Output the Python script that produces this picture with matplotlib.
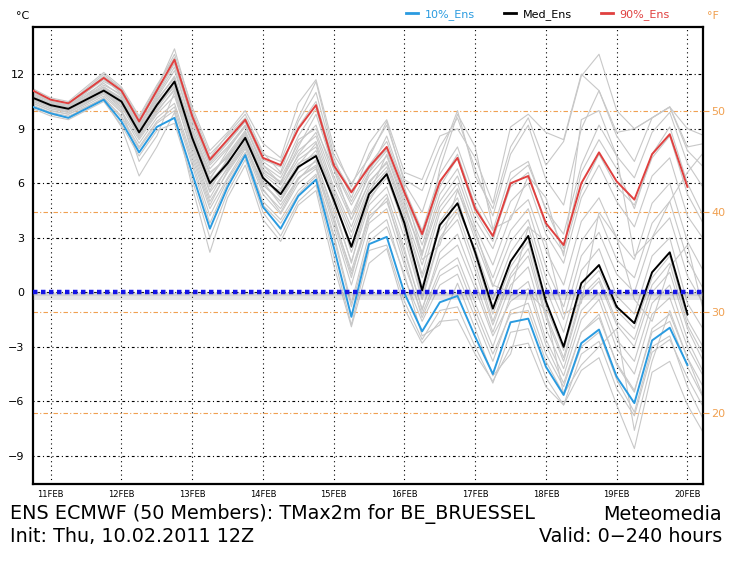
import matplotlib.pyplot as plt
import numpy as np
from matplotlib.lines import Line2D

# =============================
# DATA (deg C, 6-hourly from init 10.02.2011 12Z)
# =============================
lead_hours = list(range(6, 235, 6))          # 10FEB 18Z ... 20FEB 06Z
day_labels = ['11FEB', '12FEB', '13FEB', '14FEB', '15FEB',
              '16FEB', '17FEB', '18FEB', '19FEB', '20FEB']
c_ticks = [-9, -6, -3, 0, 3, 6, 9, 12]
f_ticks = [20, 30, 40, 50]

p10 = [10.2, 9.85, 9.6, 10.1, 10.6, 9.4, 7.7, 9.1, 9.6, 6.55, 3.5, 5.8, 7.55,
       4.7, 3.5, 5.3, 6.2, 2.5, -1.35, 2.65, 3.05, -0.05, -2.15, -0.55, -0.2,
       -2.45, -4.5, -1.65, -1.45, -4.1, -5.65, -2.8, -2.05, -4.65, -6.1, -2.65,
       -1.95, -4.0]
p50 = [10.7, 10.3, 10.1, 10.6, 11.1, 10.5, 8.8, 10.3, 11.6, 8.5, 6.0, 7.1, 8.5,
       6.3, 5.4, 6.9, 7.5, 5.1, 2.5, 5.4, 6.5, 3.8, 0.1, 3.7, 4.9,
       2.2, -0.9, 1.7, 3.1, -0.5, -3.0, 0.5, 1.5, -0.8, -1.7, 1.1,
       2.2, -1.2]
p90 = [11.1, 10.6, 10.4, 11.1, 11.8, 11.1, 9.4, 11.1, 12.8, 9.7, 7.3, 8.4, 9.5,
       7.4, 7.0, 9.0, 10.3, 7.0, 5.5, 6.9, 8.0, 5.5, 3.2, 6.1, 7.4,
       4.6, 3.1, 6.0, 6.4, 3.8, 2.6, 6.0, 7.7, 6.1, 5.1, 7.6,
       8.7, 5.8]

# ensemble members (sample), read approx. from the grey plume
mem01 = [10.9, 10.5, 10.3, 10.9, 11.5, 10.8, 9.1, 10.7, 12.2, 9.2, 6.8, 7.9, 9.1, 7.0, 6.3, 8.2, 9.2, 6.4, 4.3, 6.4,
         7.5, 4.8, 2.1, 5.0, 6.4, 3.6, 1.5, 4.2, 5.1, 2.3, 0.4, 3.9, 5.2, 3.0, 1.8, 4.9, 6.0, 2.8, 1.0]
mem02 = [10.4, 10.0, 9.8, 10.3, 10.8, 9.9, 8.2, 9.6, 10.4, 7.4, 4.6, 6.3, 7.9, 5.4, 4.3, 6.0, 6.8, 3.6, 0.4, 3.8,
         4.6, 1.5, -1.2, 1.2, 1.9, -0.6, -3.0, -0.2, 0.6, -2.6, -4.6, -1.5, -0.4, -3.1, -4.5, -1.2, -0.3, -3.0, -4.8]
mem03 = [10.7, 10.3, 10.1, 10.6, 11.1, 10.4, 8.8, 10.2, 11.5, 8.6, 6.1, 7.2, 8.4, 6.2, 5.5, 7.1, 7.6, 5.0, 2.6, 5.2,
         6.3, 3.6, 0.3, 3.9, 5.2, 2.0, -1.2, 1.4, 2.8, -0.8, -3.2, 0.2, 1.2, -1.0, -2.0, 0.8, 2.0, -1.5, -3.2]
mem04 = [11.0, 10.6, 10.4, 11.0, 11.7, 11.0, 9.3, 11.0, 12.9, 9.6, 7.2, 8.3, 9.4, 7.3, 6.9, 9.1, 10.5, 7.2, 5.6, 7.0,
         8.3, 5.7, 3.4, 6.5, 8.0, 5.2, 3.4, 6.6, 7.2, 4.5, 3.2, 7.0, 9.2, 7.5, 6.3, 8.8, 9.9, 7.1, 5.6]
mem05 = [10.1, 9.7, 9.5, 10.0, 10.5, 9.2, 7.5, 8.9, 9.3, 6.2, 3.0, 5.5, 7.3, 4.4, 3.1, 5.0, 5.9, 2.0, -1.8, 2.3,
         2.6, -0.5, -2.6, -1.0, -0.8, -3.0, -5.0, -2.2, -2.0, -4.7, -6.2, -3.4, -2.7, -5.3, -6.8, -3.3, -2.6, -4.7, -6.5]
mem06 = [10.8, 10.4, 10.2, 10.7, 11.3, 10.6, 8.9, 10.5, 11.9, 8.9, 6.5, 7.5, 8.8, 6.6, 5.9, 7.5, 8.3, 5.6, 3.3, 5.8,
         6.9, 4.2, 1.0, 4.4, 5.7, 2.9, 0.3, 2.8, 4.0, 0.8, -1.5, 2.0, 3.3, 1.0, 0.0, 3.0, 4.1, 0.9, -0.8]
mem07 = [10.6, 10.2, 10.0, 10.5, 11.0, 10.2, 8.6, 10.0, 11.1, 8.1, 5.5, 6.8, 8.2, 5.9, 5.0, 6.6, 7.2, 4.5, 1.7, 4.8,
         5.8, 3.0, -0.4, 2.9, 4.0, 1.2, -1.8, 0.8, 2.0, -1.4, -3.8, -0.4, 0.6, -1.8, -3.0, 0.0, 1.1, -2.0, -4.0]
mem08 = [10.5, 10.1, 9.9, 10.4, 10.9, 10.0, 8.4, 9.8, 10.8, 7.8, 5.0, 6.6, 8.0, 6.0, 5.6, 7.6, 8.8, 6.2, 4.0, 6.0,
         7.2, 4.6, 2.2, 5.4, 6.8, 4.0, 2.4, 5.0, 6.0, 3.2, 1.6, 5.2, 7.0, 5.0, 3.6, 6.4, 7.4, 4.2, 2.8]
mem09 = [10.9, 10.5, 10.3, 10.8, 11.4, 10.9, 9.2, 10.8, 12.4, 9.0, 6.6, 7.4, 8.6, 6.1, 4.8, 6.3, 6.9, 4.0, 1.2, 4.2,
         5.0, 2.2, -0.9, 1.8, 2.6, 0.2, -2.4, -0.5, 0.2, -2.9, -5.0, -2.2, -1.4, -3.9, -5.4, -2.2, -1.6, -4.1, -6.0]
mem10 = [10.7, 10.3, 10.0, 10.5, 11.2, 10.6, 9.0, 10.4, 11.6, 8.4, 5.8, 7.0, 8.6, 6.4, 5.2, 6.8, 7.8, 5.3, 2.2, 5.0,
         6.6, 4.0, 0.8, 3.4, 4.6, 2.4, -0.4, 2.2, 3.6, 0.2, -2.2, 1.2, 2.4, -0.2, -1.2, 2.0, 3.0, -0.6, -2.2]
mem11 = [10.8, 10.4, 10.2, 10.8, 11.6, 11.1, 9.5, 11.2, 13.4, 10.0, 7.6, 8.6, 9.6, 7.6, 7.2, 9.6, 11.6, 7.6, 6.0, 7.4,
         9.4, 6.0, 4.4, 7.4, 10.0, 6.4, 4.6, 8.0, 9.6, 7.0, 8.3, 11.9, 13.1, 10.0, 9.0, 9.6, 10.2, 8.0, 8.2]
mem12 = [10.2, 9.8, 9.6, 10.2, 10.6, 9.1, 6.4, 8.0, 9.9, 5.8, 2.2, 5.2, 7.0, 4.0, 2.8, 4.8, 5.6, 1.5, -1.9, 1.6,
         2.4, -0.9, -2.8, -1.6, -1.5, -3.4, -4.9, -3.0, -2.8, -5.2, -6.2, -4.3, -3.6, -6.2, -8.6, -4.4, -3.8, -6.2, -7.9]
mem13 = [11.0, 10.5, 10.2, 11.0, 11.8, 10.9, 9.0, 10.9, 12.6, 9.4, 7.0, 8.0, 9.2, 6.8, 6.0, 8.0, 9.8, 6.8, 4.8, 6.6,
         7.8, 5.2, 2.6, 5.8, 7.4, 4.4, 2.8, 6.2, 7.0, 4.6, 2.4, 6.6, 8.4, 6.8, 4.6, 7.6, 9.1, 6.0, 4.0]
mem14 = [10.4, 10.0, 9.8, 10.2, 10.7, 9.7, 8.0, 9.4, 10.2, 7.2, 4.2, 6.2, 7.7, 5.0, 4.0, 5.6, 6.5, 3.2, -0.6, 3.2,
         4.0, 0.8, -1.6, 0.4, 1.0, -1.4, -3.8, -1.0, -0.6, -3.4, -5.2, -2.2, -1.2, -4.0, -5.5, -2.0, -1.2, -3.6, -5.4]
mem15 = [11.2, 10.7, 10.5, 11.3, 12.1, 11.3, 9.7, 11.4, 12.9, 9.9, 7.4, 8.7, 9.8, 7.7, 6.6, 9.4, 11.0, 7.4, 5.2, 7.6,
         9.2, 6.2, 5.6, 8.0, 9.6, 6.8, 4.2, 7.6, 9.2, 6.2, 4.8, 9.0, 11.1, 8.6, 7.2, 9.6, 10.2, 7.8, 6.8]
mem16 = [10.6, 10.2, 10.1, 10.7, 11.2, 10.5, 8.7, 10.3, 11.3, 8.3, 5.9, 7.3, 8.7, 6.5, 5.7, 7.3, 8.0, 5.4, 3.0, 5.6,
         6.7, 3.4, -0.2, 3.0, 4.4, 1.6, -1.6, 1.0, 2.4, -1.2, -3.6, -0.2, 0.8, -1.6, -2.6, 0.4, 1.6, -1.8, -3.6]
mem17 = [10.5, 10.1, 9.9, 10.4, 11.0, 10.1, 7.2, 8.6, 11.0, 7.6, 4.8, 6.7, 8.1, 5.6, 4.6, 6.3, 7.0, 3.9, 0.8, 4.4,
         5.4, 2.4, -1.0, 2.2, 3.2, 0.6, -2.2, 0.4, 1.4, -2.0, -4.2, -1.0, 0.0, -2.6, -3.8, -0.6, 0.4, -2.6, -4.6]
mem18 = [10.8, 10.4, 10.2, 10.8, 11.3, 10.7, 9.1, 10.6, 11.8, 8.8, 6.3, 7.6, 8.9, 6.7, 6.1, 7.8, 8.6, 5.8, 3.6, 6.1,
         7.1, 4.4, 1.5, 4.7, 6.0, 3.2, 0.8, 3.4, 4.6, 1.4, -0.8, 2.8, 4.2, 1.8, 0.8, 3.8, 5.0, 1.8, 0.0]
mem19 = [10.6, 10.2, 9.9, 10.4, 11.0, 10.3, 8.5, 9.9, 11.2, 8.0, 5.2, 6.9, 8.3, 5.7, 4.4, 6.2, 7.3, 4.2, 1.0, 4.0,
         5.2, 1.8, -1.4, 0.9, 1.5, -1.0, -3.4, -1.2, -1.0, -3.8, -5.6, -3.0, -2.2, -4.8, -6.6, -3.0, -2.4, -5.2, -7.2]
mem20 = [10.9, 10.5, 10.3, 11.1, 11.9, 11.2, 9.4, 11.1, 12.6, 9.5, 7.1, 8.2, 9.4, 7.2, 6.5, 8.6, 10.1, 6.9, 5.0, 6.8,
         7.9, 5.4, 3.0, 6.0, 7.6, 4.8, 3.0, 5.8, 6.6, 3.6, 2.2, 5.6, 7.6, 5.8, 4.8, 7.4, 8.6, 5.4, 3.6]
mem21 = [10.6, 10.2, 10.0, 10.6, 11.2, 10.7, 9.2, 10.6, 11.8, 8.7, 6.2, 7.8, 9.2, 7.0, 6.0, 8.4, 9.0, 6.8, 4.0, 6.6,
         8.6, 5.8, 2.0, 6.8, 9.8, 8.0, 3.5, 4.0, 6.4, 5.2, 2.0, 9.5, 10.0, 7.5, 2.0, 3.0, 5.0, 6.6, 7.8]
mem22 = [10.3, 9.9, 9.7, 10.1, 10.7, 9.6, 7.9, 9.3, 10.0, 7.0, 3.8, 6.0, 7.6, 4.8, 3.8, 5.4, 6.4, 3.0, -0.8, 2.8,
         3.6, 1.0, -2.4, -1.8, 0.5, -2.0, -4.6, -3.4, 0.0, -1.0, -5.6, -4.0, -3.0, -2.0, -7.6, -3.8, -1.0, -3.6, -6.0]
mem23 = [10.8, 10.3, 10.0, 10.5, 11.0, 10.4, 8.6, 10.1, 11.4, 8.2, 5.6, 7.4, 8.8, 6.0, 5.0, 7.0, 8.2, 4.8, 1.6, 5.4,
         7.6, 5.0, 1.8, 2.6, 5.6, 3.4, 0.4, 0.0, 3.6, 2.8, -1.2, -0.6, 4.4, 3.0, -0.4, -1.6, 1.4, 2.6, -1.4]
mem24 = [11.1, 10.6, 10.4, 11.2, 12.0, 11.2, 9.6, 11.3, 13.1, 10.2, 7.8, 8.8, 10.0, 8.2, 7.4, 10.4, 11.7, 8.0, 5.8, 8.2,
         9.5, 6.6, 6.2, 8.6, 9.0, 7.4, 4.9, 9.1, 9.8, 8.8, 8.4, 12.0, 11.1, 8.8, 9.0, 9.6, 10.2, 9.0, 8.6]

members = [mem01, mem02, mem03, mem04, mem05, mem06, mem07, mem08, mem09, mem10,
           mem11, mem12, mem13, mem14, mem15, mem16, mem17, mem18, mem19, mem20,
           mem21, mem22, mem23, mem24]

# =============================
# PLOTTING
# =============================
W, H = 732, 567
fig = plt.figure(figsize=(W / 100, H / 100), dpi=100)
ax = fig.add_axes([33 / W, 1 - 484 / H, (703 - 33) / W, (484 - 27) / H])

# days since 11FEB 00Z
t_mem = (np.array(lead_hours) - 12) / 24.0
t_pct = t_mem[:len(p50)]

ax.set_xlim(-0.25, 9.22)
ax.set_ylim(-10.55, 14.6)

# grid
for v in c_ticks:
    ax.axhline(v, color='black', lw=0.8, dashes=(1, 2.5, 2.5, 2.5), zorder=1)
for d in range(len(day_labels)):
    ax.axvline(d, color='black', lw=0.8, dashes=(1, 3), zorder=1)

# Fahrenheit reference lines
for f in f_ticks:
    ax.axhline((f - 32) * 5 / 9, color='#f0a050', lw=0.8, dashes=(4, 2, 1, 2), zorder=1)

for m in members:
    ax.plot(t_mem, m, color='#c8c8c8', lw=0.8, zorder=2)

ax.plot(t_pct, p10, color='#2a9be0', lw=1.4, zorder=4)
ax.plot(t_pct, p50, color='black', lw=1.4, zorder=4)
ax.plot(t_pct, p90, color='#e0403f', lw=1.4, zorder=4)

# zero line with shadow
ax.axhline(-0.22, color='#909090', lw=5, alpha=0.22, zorder=3)
ax.axhline(-0.12, color='#909090', lw=3, alpha=0.2, zorder=3)
ax.axhline(0, color='#1414e6', lw=3.2, dashes=(1, 0.8), zorder=5)

ax.set_yticks(c_ticks)
ax.set_yticklabels([str(v).replace('-', '\u2212') for v in c_ticks], fontsize=8)
ax.set_xticks(range(len(day_labels)))
ax.set_xticklabels(day_labels, fontsize=6)
ax.tick_params(axis='both', length=0)
ax.tick_params(axis='y', pad=6)
ax.tick_params(axis='x', pad=4)
for s in ax.spines.values():
    s.set_linewidth(1.6)

ax2 = ax.twinx()
ax2.set_ylim(-10.55 * 9 / 5 + 32, 14.6 * 9 / 5 + 32)
ax2.set_yticks(f_ticks)
ax2.set_yticklabels([str(f) for f in f_ticks], fontsize=8, color='#f0a050')
ax2.tick_params(axis='y', length=4, color='#f0a050', pad=2)
for s in ax2.spines.values():
    s.set_visible(False)

# header
fig.text(16 / W, 1 - 16 / H, '\u00b0C', fontsize=8, va='center')
fig.text(707 / W, 1 - 16 / H, '\u00b0F', fontsize=8, va='center', color='#f0a050')
handles = [Line2D([], [], color='#2a9be0', lw=2),
           Line2D([], [], color='black', lw=2),
           Line2D([], [], color='#e0403f', lw=2)]
ax.legend(handles, ['10%_Ens', 'Med_Ens', '90%_Ens'], ncol=3, frameon=False,
          fontsize=8, labelcolor='linecolor', handlelength=1.1, handletextpad=0.6,
          columnspacing=2.6, loc='center right', bbox_to_anchor=(0.957, 1.027),
          borderaxespad=0)

# footer
fig.text(10 / W, 1 - 514 / H, 'ENS ECMWF (50 Members): TMax2m for BE_BRUESSEL',
         fontsize=13.8, va='center')
fig.text(722 / W, 1 - 514 / H, 'Meteomedia', fontsize=13.8, va='center', ha='right')
fig.text(10 / W, 1 - 536 / H, 'Init: Thu, 10.02.2011 12Z', fontsize=13.8, va='center')
fig.text(722 / W, 1 - 536 / H, 'Valid: 0\u2212240 hours', fontsize=13.8, va='center', ha='right')

fig.savefig('out.png', dpi=100)
